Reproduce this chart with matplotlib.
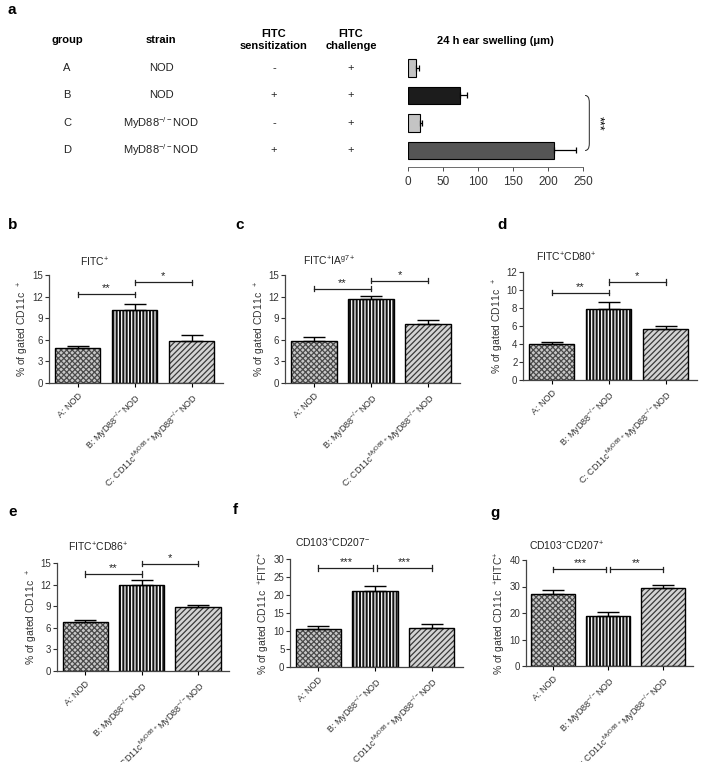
import matplotlib
matplotlib.use("Agg")
import matplotlib.pyplot as plt
from matplotlib.transforms import blended_transform_factory
from matplotlib.path import Path
from matplotlib.patches import PathPatch

plt.rcParams['font.family'] = ['Liberation Sans', 'DejaVu Sans']
plt.rcParams['mathtext.fontset'] = 'custom'
plt.rcParams['mathtext.rm'] = 'Liberation Sans'
plt.rcParams['mathtext.it'] = 'Liberation Sans:italic'
plt.rcParams['mathtext.bf'] = 'Liberation Sans:bold'
plt.rcParams['mathtext.default'] = 'regular'
plt.rcParams['hatch.linewidth'] = 0.9

# ---- panel a data ----
groups = ['A', 'B', 'C', 'D']
strains = ['NOD', 'NOD', 'MyD88$^{-/-}$NOD', 'MyD88$^{-/-}$NOD']
sensitization = ['-', '+', '-', '+']
challenge = ['+', '+', '+', '+']
swelling = [11, 74, 16.5, 209]
swelling_err = [4.5, 10, 4, 31]
swelling_colors = ['#c4c4c4', '#1c1c1c', '#c4c4c4', '#555555']

# ---- panels b-g data ----
cats = ['A: NOD', 'B: MyD88$^{-/-}$NOD', 'C: CD11c$^{MyD88+}$MyD88$^{-/-}$NOD']
titles = ['FITC$^{+}$', 'FITC$^{+}$IA$^{g7+}$', 'FITC$^{+}$CD80$^{+}$',
          'FITC$^{+}$CD86$^{+}$', 'CD103$^{+}$CD207$^{-}$', 'CD103$^{-}$CD207$^{+}$']
letters = ['b', 'c', 'd', 'e', 'f', 'g']
ylabels = ['% of gated CD11c  $^{+}$'] * 4 + ['% of gated CD11c  $^{+}$FITC$^{+}$'] * 2
vals = [[4.8, 10.2, 5.9], [5.9, 11.6, 8.2], [3.95, 7.9, 5.7],
        [6.8, 11.9, 8.9], [10.6, 21.0, 10.9], [27.3, 18.9, 29.3]]
errs = [[0.4, 0.8, 0.8], [0.5, 0.5, 0.6], [0.3, 0.75, 0.35],
        [0.35, 0.7, 0.3], [0.8, 1.4, 1.0], [1.3, 1.6, 1.3]]
ymaxs = [15, 15, 12, 15, 30, 40]
ysteps = [3, 3, 2, 3, 5, 10]
sig_ab = [('**', 12.3), ('**', 13.1), ('**', 9.7), ('**', 13.5), ('***', 27.5), ('***', 36.5)]
sig_bc = [('*', 14.0), ('*', 14.2), ('*', 10.9), ('*', 14.9), ('***', 27.5), ('**', 36.5)]

W, H = 701, 762
fig = plt.figure(figsize=(7.01, 7.62), dpi=100)


def box(l, r, t, b):
    return [l / W, 1 - b / H, (r - l) / W, (b - t) / H]


def px(x, y):
    return x / W, 1 - y / H


# ================= panel a =================
fig.text(*px(7, 10), 'a', fontsize=11, fontweight='bold', va='center', ha='left')
axa = fig.add_axes(box(408, 583, 55, 167))
rows = list(range(len(groups)))
axa.barh(rows, swelling, height=0.65, color=swelling_colors, edgecolor='black', linewidth=0.8)
axa.errorbar(swelling, rows, xerr=[[0] * 4, swelling_err], fmt='none', ecolor='black',
             elinewidth=0.9, capsize=2.5, capthick=0.9)
axa.set_xlim(0, 250)
axa.set_ylim(3.6, -0.47)
axa.set_xticks(range(0, 251, 50))
axa.tick_params(axis='x', labelsize=8.5, colors='#333333', length=3, width=0.6)
axa.set_yticks([])
for s in ['left', 'right', 'top']:
    axa.spines[s].set_visible(False)
axa.spines['bottom'].set_linewidth(0.6)
axa.spines['bottom'].set_color('#555555')
axa.set_title('24 h ear swelling (μm)', fontsize=8, fontweight='bold', pad=8)

tr = blended_transform_factory(fig.transFigure, axa.transData)
hy = 1 - 40 / H
cols_x = [67, 161, 274, 351]
fig.text(cols_x[0] / W, hy, 'group', fontsize=8, fontweight='bold', ha='center', va='center')
fig.text(cols_x[1] / W, hy, 'strain', fontsize=8, fontweight='bold', ha='center', va='center')
fig.text(cols_x[2] / W, hy, 'FITC\nsensitization', fontsize=8, fontweight='bold', ha='center',
         va='center', linespacing=1.35)
fig.text(cols_x[3] / W, hy, 'FITC\nchallenge', fontsize=8, fontweight='bold', ha='center',
         va='center', linespacing=1.35)
for i, r in enumerate(rows):
    for cx, col in zip(cols_x, [groups, strains, sensitization, challenge]):
        axa.text(cx / W, r, col[i], transform=tr, fontsize=8, ha='center', va='center',
                 color='#222222')

# bracket B-D
bx0, bx1 = 253, 259
verts = [(bx0, 1.0), (bx1, 1.0), (bx1, 1.25), (bx1, 2.75), (bx1, 3.0), (bx0, 3.0)]
codes = [Path.MOVETO, Path.CURVE3, Path.CURVE3, Path.LINETO, Path.CURVE3, Path.CURVE3]
axa.add_patch(PathPatch(Path(verts, codes), fill=False, lw=0.7, edgecolor='#222222', clip_on=False))
axa.text(272, 2.0, '***', rotation=270, fontsize=9, ha='center', va='center', clip_on=False)

# ================= panels b-g =================
boxes = [box(49, 223, 275, 383), box(285, 460, 275, 383), box(523, 697, 272, 380),
         box(57, 229, 563, 671), box(290, 463, 559, 667), box(526, 693, 560, 666)]
axis_w = [174, 175, 174, 172, 173, 167]
letter_pos = [(8, 225), (235, 225), (497, 225), (8, 512), (233, 510), (490, 513)]
title_pos = [(80, 262), (303, 260), (536, 257), (68, 547), (295, 543), (529, 546)]

face = ['#c8c8c8', '#161616', '#d4d4d4']
hcol = ['#4a4a4a', 'white', '#3a3a3a']
hatches = ['xxxxxx', '|||||', '//////']

for k in range(6):
    ax = fig.add_axes(boxes[k])
    x = list(range(3))
    for i in x:
        ax.bar(i, vals[k][i], width=0.8, color=face[i], edgecolor=hcol[i], hatch=hatches[i], linewidth=0)
    ax.bar(x, vals[k], width=0.8, fill=False, edgecolor='black', linewidth=1.0)
    ax.errorbar(x, vals[k], yerr=[[0, 0, 0], errs[k]], fmt='none', ecolor='black',
                elinewidth=1.0, capsize=8, capthick=1.0)
    ax.set_xlim(-0.5, 2.55)
    ax.set_ylim(0, ymaxs[k])
    ax.set_yticks(range(0, ymaxs[k] + 1, ysteps[k]))
    ax.set_xticks(x)
    ax.set_xticklabels(cats, rotation=45, ha='right', rotation_mode='anchor', fontsize=6.5, color='#333333')
    ax.tick_params(axis='y', labelsize=7, colors='#333333', length=3, width=0.8, pad=1)
    ax.tick_params(axis='x', length=3, width=0.8, pad=3)
    for s in ['right', 'top']:
        ax.spines[s].set_visible(False)
    for s in ['left', 'bottom']:
        ax.spines[s].set_linewidth(0.9)
        ax.spines[s].set_color('#444444')
    ax.set_ylabel(ylabels[k], fontsize=7.5, color='#333333')
    ax.yaxis.set_label_coords(-17.5 / axis_w[k], 0.5)

    # significance lines
    gap = 0.03 if sig_ab[k][1] == sig_bc[k][1] else 0
    for (lab, yv), (x0, x1) in [(sig_ab[k], (0, 1 - gap)), (sig_bc[k], (1 + gap, 2))]:
        cap = ymaxs[k] * 0.025
        ax.plot([x0, x1], [yv, yv], color='#222222', lw=0.9, clip_on=False)
        ax.plot([x0, x0], [yv - cap, yv + cap], color='#222222', lw=0.9, clip_on=False)
        ax.plot([x1, x1], [yv - cap, yv + cap], color='#222222', lw=0.9, clip_on=False)
        ax.text((x0 + x1) / 2, yv + ymaxs[k] * 0.01, lab, fontsize=8, ha='center', va='bottom',
                color='#222222', clip_on=False)

    fig.text(*px(*letter_pos[k]), letters[k], fontsize=11, fontweight='bold', va='center', ha='left')
    fig.text(*px(*title_pos[k]), titles[k], fontsize=7.5, va='center', ha='left', color='#222222')

fig.savefig('out.png', dpi=100)
